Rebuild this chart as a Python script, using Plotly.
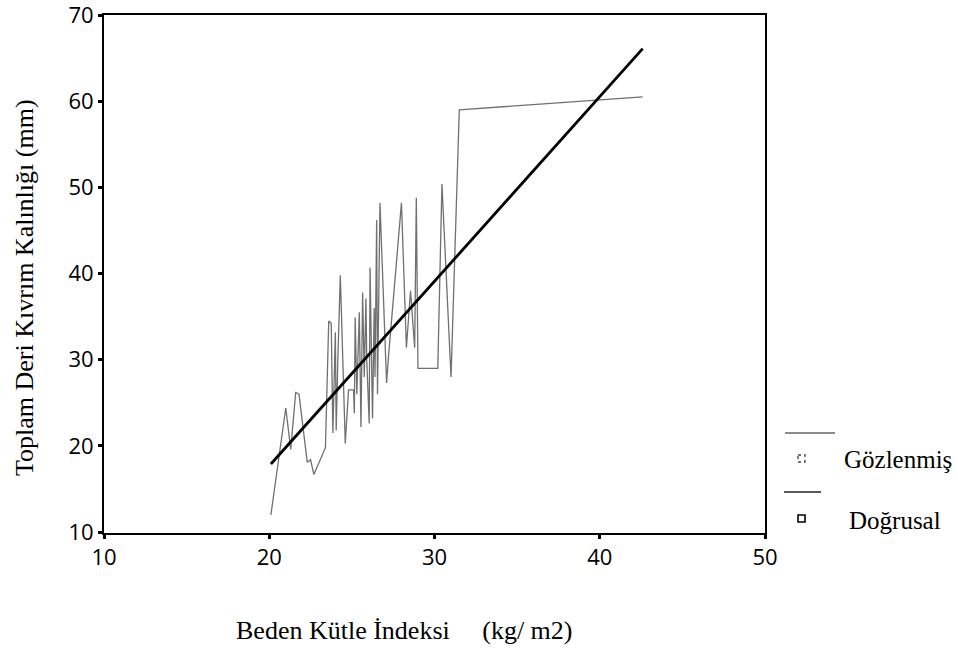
import plotly.graph_objects as go

# Observed values (sorted by BMI)
bmi = [20.1, 21.0, 21.3, 21.6, 21.8, 22.3, 22.5, 22.7, 23.4, 23.6, 23.75, 23.85, 24.0, 24.05,
       24.15, 24.3, 24.6, 24.8, 25.1, 25.15, 25.2, 25.3, 25.45, 25.55, 25.65, 25.75, 25.85, 25.9,
       26.05, 26.1, 26.25, 26.35, 26.4, 26.5, 26.55, 26.6, 26.7, 27.1, 27.2, 28.0, 28.3, 28.55,
       28.8, 28.9, 29.0, 30.2, 30.45, 31.0, 31.5, 42.6]
skinfold = [12.0, 24.4, 19.6, 26.2, 26.0, 18.1, 18.4, 16.7, 19.8, 34.5, 34.2, 21.5, 33.2, 21.8,
            30.0, 39.8, 20.3, 26.5, 26.5, 23.8, 34.9, 26.0, 35.5, 22.2, 37.8, 28.0, 37.1, 30.0,
            22.6, 40.7, 23.2, 36.0, 28.0, 46.2, 26.0, 34.0, 48.2, 27.3, 30.0, 48.2, 31.4, 38.0,
            31.4, 48.8, 29.0, 29.0, 50.4, 28.0, 59.0, 60.5]

# Linear fit endpoints
lin_x = [20.1, 42.6]
lin_y = [17.9, 66.1]

x_ticks = [10, 20, 30, 40, 50]
y_ticks = [10, 20, 30, 40, 50, 60, 70]

legend_labels = ["Gözlenmiş", "Doğrusal"]
x_title = "Beden Kütle İndeksi     (kg/ m2)"
y_title = "Toplam Deri Kıvrım Kalınlığı (mm)"

W, H = 958, 650
L, R, T, B = 104, 765, 15, 533


def px(xp):
    return (xp - L) / (R - L)


def py(yp):
    return (B - yp) / (B - T)


fig = go.Figure()
fig.add_trace(go.Scatter(x=bmi, y=skinfold, mode="lines",
                         line=dict(color="#707070", width=1.3),
                         name=legend_labels[0], showlegend=False))
fig.add_trace(go.Scatter(x=lin_x, y=lin_y, mode="lines",
                         line=dict(color="black", width=2.8),
                         name=legend_labels[1], showlegend=False))

serif = "Liberation Serif, Times New Roman, serif"
sans = "Open Sans, Noto Sans, sans-serif"

shapes = [
    dict(type="line", xref="paper", yref="paper", x0=px(785), x1=px(835), y0=py(433), y1=py(433),
         line=dict(color="#666", width=1.3)),
    dict(type="rect", xref="paper", yref="paper", x0=px(798), x1=px(805), y0=py(455), y1=py(462),
         line=dict(color="#444", width=1.3, dash="dot")),
    dict(type="line", xref="paper", yref="paper", x0=px(784), x1=px(821), y0=py(492), y1=py(492),
         line=dict(color="#222", width=1.5)),
    dict(type="rect", xref="paper", yref="paper", x0=px(798), x1=px(805), y0=py(515), y1=py(522),
         line=dict(color="black", width=1.6)),
]

annotations = [
    dict(text=legend_labels[0], xref="paper", yref="paper", x=px(842), y=py(459),
         xanchor="left", yanchor="middle", showarrow=False,
         font=dict(family=serif, size=25, color="black")),
    dict(text=legend_labels[1], xref="paper", yref="paper", x=px(847), y=py(520),
         xanchor="left", yanchor="middle", showarrow=False,
         font=dict(family=serif, size=25, color="black")),
    dict(text=x_title, xref="paper", yref="paper", x=px(404), y=py(630),
         xanchor="center", yanchor="middle", showarrow=False,
         font=dict(family=serif, size=26, color="black")),
    dict(text=y_title, xref="paper", yref="paper", x=px(24), y=py(288),
         xanchor="center", yanchor="middle", showarrow=False, textangle=-90,
         font=dict(family=serif, size=26, color="black")),
]

fig.update_layout(
    width=W, height=H,
    margin=dict(l=L, r=W - R, t=T, b=H - B, autoexpand=False),
    paper_bgcolor="white", plot_bgcolor="white",
    showlegend=False,
    shapes=shapes,
    annotations=annotations,
    xaxis=dict(range=[10, 50], tickvals=x_ticks, ticktext=[str(v) for v in x_ticks],
               showgrid=False, zeroline=False, showline=True, linecolor="black", linewidth=2,
               mirror=True, ticks="outside", ticklen=4, tickwidth=3, tickcolor="black",
               ticklabeloverflow="allow", automargin=False,
               tickfont=dict(family=sans, size=22, color="black")),
    yaxis=dict(range=[9.9, 70.0], tickvals=y_ticks, ticktext=[str(v) for v in y_ticks],
               showgrid=False, zeroline=False, showline=True, linecolor="black", linewidth=2,
               mirror=True, ticks="outside", ticklen=4, tickwidth=3, tickcolor="black",
               ticklabeloverflow="allow", automargin=False,
               tickfont=dict(family=sans, size=22, color="black")),
)

fig.write_html("out.html")
